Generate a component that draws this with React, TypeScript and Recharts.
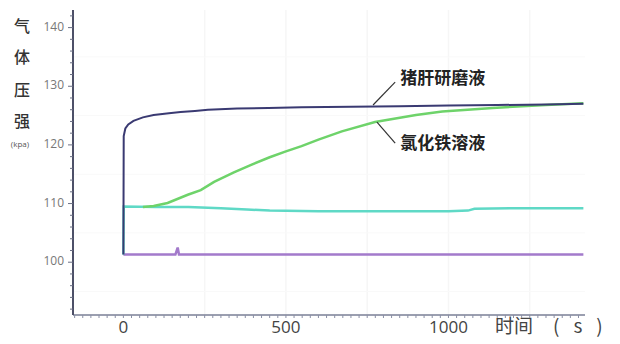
import React from 'react';
import { LineChart, Line, XAxis, YAxis, ReferenceLine, ReferenceDot } from 'recharts';

// 猪肝研磨液 (pig liver homogenate)
const liverTime = [0, 1, 6, 15, 31, 60, 93, 140, 176, 220, 260, 350, 446, 548, 700, 850, 1000, 1150, 1300, 1415];
const liverValue = [101.3, 121.5, 122.8, 123.5, 124.1, 124.7, 125.1, 125.4, 125.6, 125.8, 126.0, 126.2, 126.3, 126.4, 126.5, 126.6, 126.7, 126.8, 126.9, 127.0];

// 氯化铁溶液 (ferric chloride solution)
const ferricTime = [60, 93, 136, 198, 238, 279, 340, 393, 450, 500, 548, 600, 672, 774, 900, 981, 1136, 1300, 1415];
const ferricValue = [109.4, 109.6, 110.1, 111.5, 112.3, 113.7, 115.3, 116.6, 117.9, 118.9, 119.8, 120.9, 122.3, 123.9, 125.1, 125.7, 126.3, 126.8, 127.1];

// cyan control
const cyanTime = [0, 1, 100, 200, 300, 380, 450, 600, 800, 1000, 1060, 1080, 1200, 1415];
const cyanValue = [101.3, 109.5, 109.4, 109.4, 109.2, 109.0, 108.8, 108.7, 108.7, 108.7, 108.8, 109.1, 109.2, 109.2];

// purple control
const purpleTime = [0, 100, 160, 167, 171, 180, 300, 600, 900, 1200, 1415];
const purpleValue = [101.3, 101.3, 101.3, 102.5, 101.3, 101.3, 101.3, 101.3, 101.3, 101.3, 101.3];

const xLabelTicks = [0, 500, 1000];
const yLabelTicks = [100, 110, 120, 130, 140];
const xMinorTicks = Array.from({ length: 63 }, (_, i) => -150 + i * 25);
const yMinorTicks = Array.from({ length: 26 }, (_, i) => 92 + i * 2);
const yTitleChars = ['气', '体', '压', '强'];
const yUnit = '(kpa)';
const xTitleMain = '时间';
const xTitleUnit = '(s)';
const liverLabel = '猪肝研磨液';
const ferricLabel = '氯化铁溶液';

const toRows = (t: number[], v: number[]) => t.map((tt, i) => ({ t: tt, v: v[i] }));
const liverData = toRows(liverTime, liverValue);
const ferricData = toRows(ferricTime, ferricValue);
const cyanData = toRows(cyanTime, cyanValue);
const purpleData = toRows(purpleTime, purpleValue);

const NUM_FONT = '"Open Sans", "Noto Sans", sans-serif';
const CJK_FONT = '"Noto Sans CJK SC", sans-serif';

const XTick = (props: any) => {
  const { x, y, payload } = props;
  const v = payload.value;
  const major = xLabelTicks.includes(v);
  return (
    <g>
      <line x1={x} x2={x} y1={y} y2={y + 3} stroke="#8a8fa5" strokeWidth={1} />
      {major && (
        <text x={x} y={y + 13} textAnchor="middle" dominantBaseline="middle" fontSize={17} fill="#444" fontFamily={NUM_FONT}>
          {v}
        </text>
      )}
    </g>
  );
};

const YTick = (props: any) => {
  const { x, y, payload } = props;
  const v = payload.value;
  const major = yLabelTicks.includes(v);
  return (
    <g>
      <line x1={x - (major ? 5 : 3)} x2={x} y1={y} y2={y} stroke="#6b6f85" strokeWidth={1} />
      {major && (
        <text x={x - 9} y={y} textAnchor="end" dominantBaseline="middle" fontSize={12} fill="#777" fontFamily={NUM_FONT}>
          {v}
        </text>
      )}
    </g>
  );
};

const YTitle = (props: any) => {
  const vb = props.viewBox || { x: 0, y: 0 };
  const top = vb.y;
  const offsets = [18, 49, 82, 113];
  return (
    <g>
      {yTitleChars.map((c, i) => (
        <text key={c} x={22} y={top + offsets[i]} textAnchor="middle" dominantBaseline="middle" fontSize={16} fill="#333" fontFamily={CJK_FONT} fontWeight={500}>
          {c}
        </text>
      ))}
      <text x={20} y={top + 135} textAnchor="middle" dominantBaseline="middle" fontSize={8} fill="#555" fontFamily={NUM_FONT}>
        {yUnit}
      </text>
    </g>
  );
};

const XTitle = (props: any) => {
  const vb = props.viewBox || { x: 0, y: 0, width: 0 };
  const right = vb.x + vb.width;
  return (
    <text x={right - 90} y={vb.y + 13} textAnchor="start" dominantBaseline="middle" fontSize={19} fill="#444" fontFamily={CJK_FONT}>
      <tspan>{xTitleMain}</tspan>
      <tspan dx={20} letterSpacing={14}>{xTitleUnit}</tspan>
    </text>
  );
};

export default function App() {
  return (
    <div style={{ position: 'absolute', left: 0, top: 0, background: '#fff' }}>
      <LineChart width={620} height={344} margin={{ top: 10, right: 35, bottom: 0, left: 0 }}>
        {[250, 500, 750, 1000, 1250].map((g) => (
          <ReferenceLine key={'gx' + g} x={g} stroke="#f6f6f6" strokeWidth={1.5} />
        ))}
        {[95, 105, 115, 125, 135].map((g) => (
          <ReferenceLine key={'gy' + g} y={g} stroke="#f9f9f9" strokeWidth={1} />
        ))}
        <XAxis
          type="number"
          dataKey="t"
          domain={[-155, 1420]}
          ticks={xMinorTicks}
          interval={0}
          allowDataOverflow
          height={29}
          tickLine={false}
          tickSize={0}
          tickMargin={0}
          tick={<XTick />}
          axisLine={{ stroke: '#7a7f96', strokeWidth: 1.5 }}
          label={<XTitle />}
        />
        <YAxis
          type="number"
          domain={[91, 143]}
          ticks={yMinorTicks}
          interval={0}
          allowDataOverflow
          width={73}
          tickLine={false}
          tickSize={0}
          tickMargin={0}
          tick={<YTick />}
          axisLine={{ stroke: '#4d5068', strokeWidth: 2 }}
          label={<YTitle />}
        />
        <Line data={purpleData} dataKey="v" type="linear" stroke="#a37acb" strokeWidth={2.5} dot={false} isAnimationActive={false} />
        <Line data={cyanData} dataKey="v" type="linear" stroke="#5fd9c6" strokeWidth={2.5} dot={false} isAnimationActive={false} />
        <Line data={ferricData} dataKey="v" type="linear" stroke="#6ed36a" strokeWidth={2.5} dot={false} isAnimationActive={false} />
        <Line data={liverData} dataKey="v" type="linear" stroke="#3a3a72" strokeWidth={2} dot={false} isAnimationActive={false} />
        <ReferenceLine segment={[{ x: 768, y: 126.8 }, { x: 836, y: 130.7 }]} stroke="#333" strokeWidth={1.2} />
        <ReferenceLine segment={[{ x: 780, y: 123.9 }, { x: 836, y: 120.3 }]} stroke="#333" strokeWidth={1.2} />
        <ReferenceDot
          x={836}
          y={131.4}
          r={0}
          stroke="none"
          label={{ value: liverLabel, position: 'right', fontSize: 17, fill: '#222', fontFamily: CJK_FONT, fontWeight: 600 }}
        />
        <ReferenceDot
          x={836}
          y={120.3}
          r={0}
          stroke="none"
          label={{ value: ferricLabel, position: 'right', fontSize: 17, fill: '#222', fontFamily: CJK_FONT, fontWeight: 600 }}
        />
      </LineChart>
    </div>
  );
}
